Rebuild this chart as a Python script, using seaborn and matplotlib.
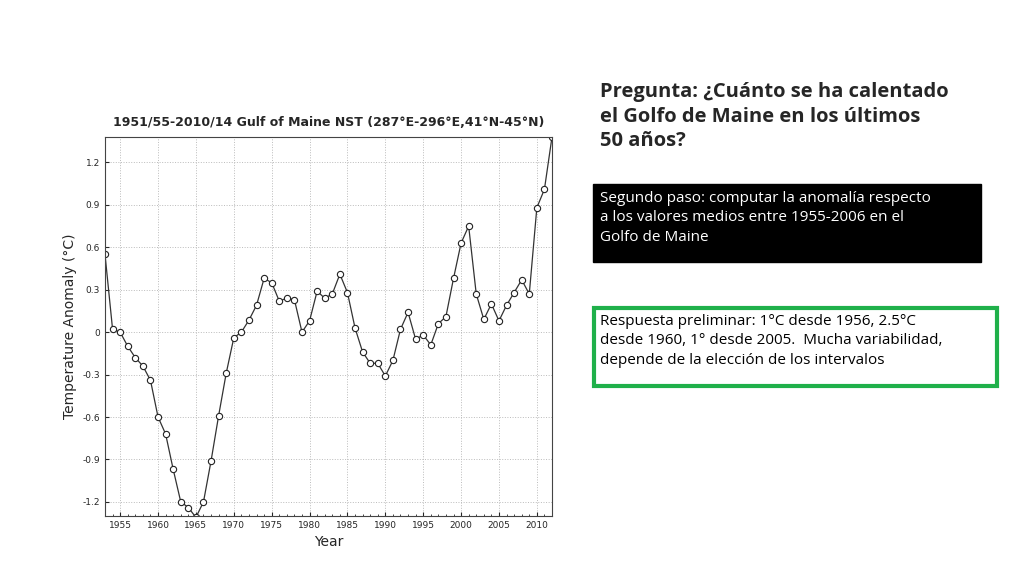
import numpy as np
import pandas as pd
import seaborn as sns
import matplotlib.pyplot as plt
from matplotlib.patches import Rectangle

# yearly anomaly
years = list(range(1953, 2013))
anomaly = [0.55, 0.02, 0.0, -0.10, -0.18, -0.24, -0.34, -0.60, -0.72, -0.97,
           -1.20, -1.24, -1.31, -1.20, -0.91, -0.59, -0.29, -0.04, 0.0, 0.085,
           0.19, 0.38, 0.35, 0.22, 0.24, 0.23, 0.0, 0.08, 0.29, 0.24,
           0.27, 0.41, 0.28, 0.03, -0.14, -0.22, -0.22, -0.31, -0.20, 0.02,
           0.14, -0.05, -0.02, -0.09, 0.06, 0.11, 0.38, 0.63, 0.75, 0.27,
           0.09, 0.20, 0.08, 0.19, 0.28, 0.37, 0.27, 0.88, 1.01, 1.38]
yticks = [-1.2, -0.9, -0.6, -0.3, 0, 0.3, 0.6, 0.9, 1.2]
xticks = list(range(1955, 2011, 5))

df = pd.DataFrame({"Year": years, "Anomaly": anomaly})

sns.set_style("white")
fig = plt.figure(figsize=(10.24, 5.76), dpi=100)
ax = fig.add_axes([105/1024, 1-516/576, 447/1024, 379/576])
sns.lineplot(data=df, x="Year", y="Anomaly", ax=ax, color="#333333", lw=0.9,
             marker="o", markersize=4.5, markerfacecolor="white",
             markeredgecolor="#222222", markeredgewidth=0.8)
ax.set_xlim(1953, 2012)
ax.set_ylim(-1.30, 1.38)
ax.set_xticks(xticks)
ax.set_xticks(range(1953, 2013), minor=True)
ax.set_yticks(yticks)
ax.set_yticklabels([f"{v:g}" for v in yticks])
ax.tick_params(labelsize=6.5, direction="in", length=3, left=True, bottom=True)
ax.tick_params(which="minor", direction="in", length=1.5, bottom=True)
ax.grid(True, linestyle=":", color="#bbbbbb", lw=0.7)
for s in ax.spines.values():
    s.set_color("#444444")
ax.set_xlabel("Year", fontsize=10)
ax.set_ylabel("Temperature Anomaly (°C)", fontsize=10)
ax.set_title("1951/55-2010/14 Gulf of Maine NST (287°E-296°E,41°N-45°N)",
             fontsize=9, fontweight="bold", pad=8)

fig.text(600/1024, 1-82/576, "Pregunta: ¿Cuánto se ha calentado\nel Golfo de Maine en los últimos\n50 años?",
         fontsize=14.5, fontweight="bold", va="top", ha="left", linespacing=1.3,
         family="Open Sans")
fig.patches.append(Rectangle((593/1024, 1-262/576), 388/1024, 78/576,
                             transform=fig.transFigure, color="black"))
fig.text(600/1024, 1-191/576, "Segundo paso: computar la anomalía respecto\na los valores medios entre 1955-2006 en el\nGolfo de Maine",
         fontsize=11, color="white", va="top", ha="left", linespacing=1.4,
         family="Open Sans")
fig.patches.append(Rectangle((594/1024, 1-386/576), 403/1024, 78/576,
                             transform=fig.transFigure, fill=False,
                             edgecolor="#1fb04a", lw=3))
fig.text(600/1024, 1-314/576, "Respuesta preliminar: 1°C desde 1956, 2.5°C\ndesde 1960, 1° desde 2005.  Mucha variabilidad,\ndepende de la elección de los intervalos",
         fontsize=11, color="black", va="top", ha="left", linespacing=1.4,
         family="Open Sans")

fig.savefig("out.png", dpi=100)
